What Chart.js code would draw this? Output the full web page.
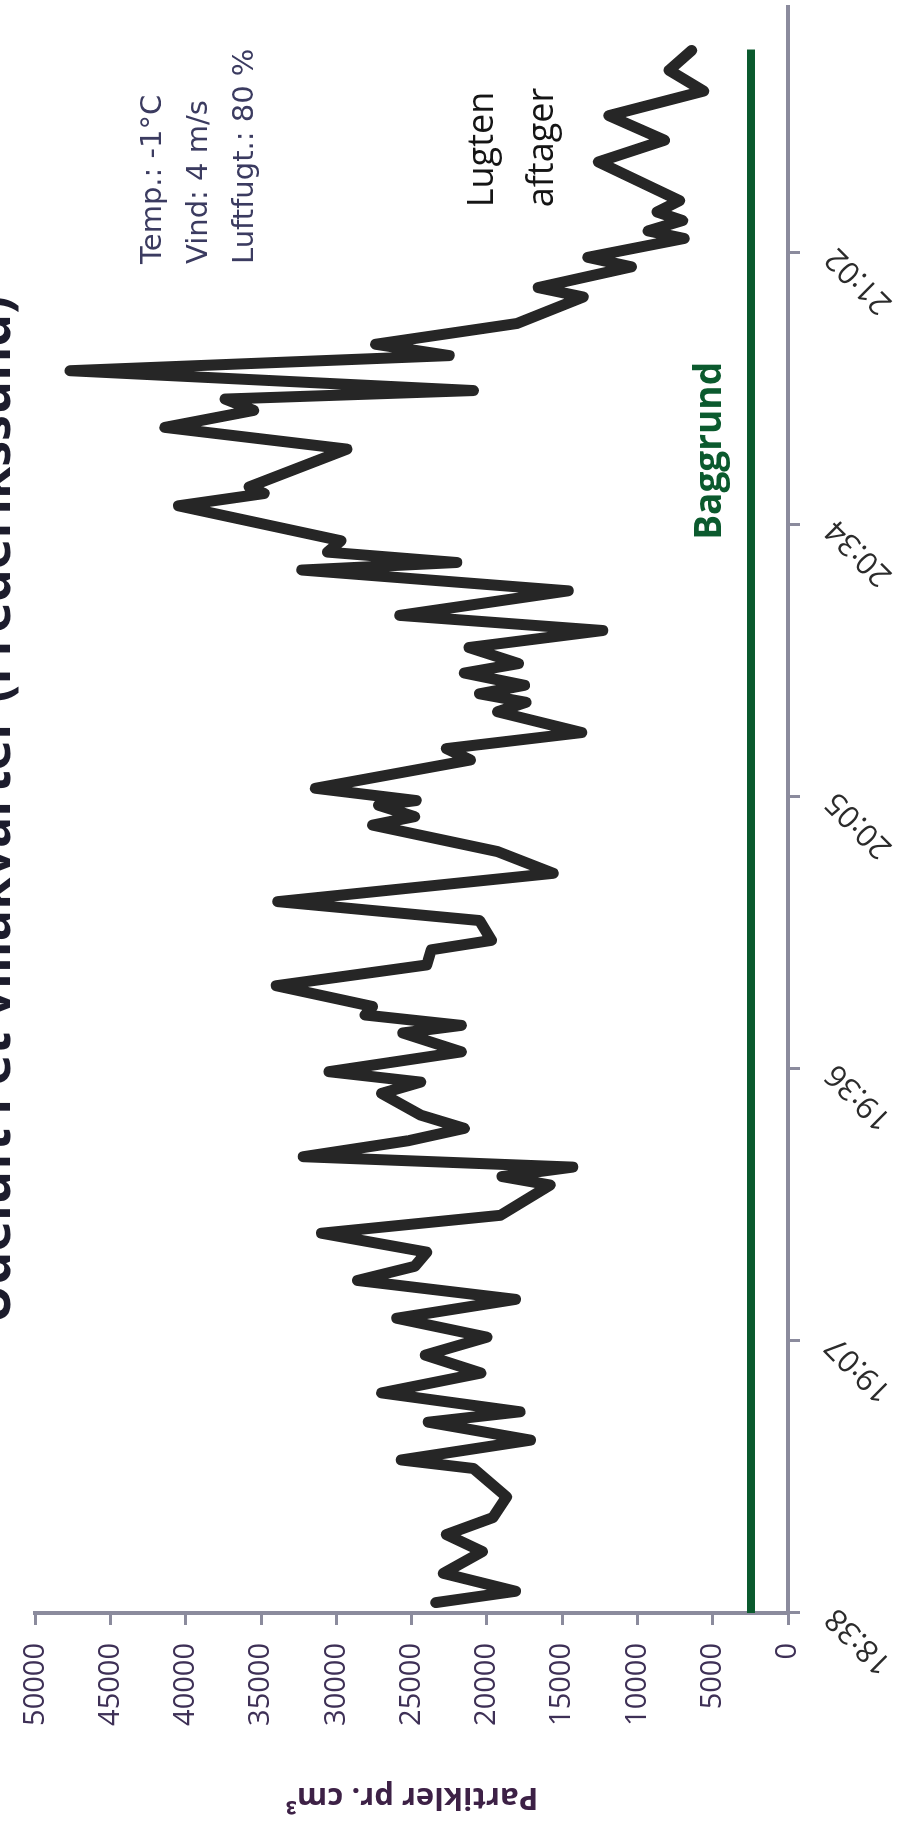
<!DOCTYPE html>
<html lang="da">
<head>
  <meta charset="UTF-8" />
  <title>Udeluft i et villakvarter (Frederikssund)</title>
  <style>
    html, body {
      margin: 0;
      padding: 0;
      background: #fff;
      width: 903px;
      height: 1825px;
      overflow: hidden;
    }
    /* the chart is drawn landscape and turned a quarter turn, like the scanned page */
    #turn {
      position: absolute;
      left: 0;
      top: 0;
      width: 1825px;
      height: 903px;
      transform-origin: 0 0;
      transform: translate(0, 1825px) rotate(-90deg);
    }
  </style>
  <script src="https://cdn.jsdelivr.net/npm/chart.js"></script>
</head>
<body>

<div id="turn"><canvas id="chart"></canvas></div>

<script>
  // minutes after 18:38 and particle counts
  const minutes = [
    1.1, 2.3, 4.2, 6.5, 8.3, 10.1, 12.3, 15.3, 16.2, 18.3, 20.2, 21.3, 23.3, 25.4, 27.3, 29.2,
    31.2, 33.2, 35.2, 36.7, 38.2, 40.2, 42.1, 45.3, 46.2, 47.2, 48.3, 50.0, 51.3, 52.7, 55.0,
    56.2, 57.3, 59.4, 61.4, 62.2, 63.3, 64.2, 66.4, 68.6, 70.2, 71.2, 73.3, 75.3, 78.3, 80.6,
    83.4, 84.3, 85.5, 86.0, 87.3, 90.3, 91.5, 93.2, 95.4, 96.4, 97.3, 98.2, 99.5, 100.5, 102.2,
    104.0, 105.6, 108.2, 110.4, 111.2, 112.3, 113.5, 117.2, 118.5, 119.2, 123.2, 125.5, 127.3,
    128.5, 129.4, 131.5, 133.1, 134.3, 136.5, 139.3, 140.3, 142.5, 143.5, 145.5, 146.3, 147.4,
    148.3, 149.5, 153.6, 155.9, 158.5, 161.1, 163.3, 165.4
  ];
  const particles = [
    23400, 18100, 22900, 20300, 22700, 19600, 18700, 20900, 25700, 17100, 23900, 17800, 27000, 20400, 24100, 20000,
    26000, 18100, 28600, 24800, 24000, 31000, 19100, 15800, 19000, 14300, 32200, 25200, 21500, 24400, 27000,
    24400, 30500, 21700, 25600, 21700, 28100, 27600, 34000, 24000, 23700, 19700, 20500, 33900, 15600, 19300,
    27600, 24800, 27200, 24700, 31400, 21100, 22700, 13700, 19300, 17400, 20500, 17500, 21500, 17900, 21200,
    12300, 25800, 14600, 32300, 22000, 30600, 29700, 40500, 34800, 35800, 29300, 41400, 35500,
    37400, 20900, 47700, 22500, 27400, 18000, 13600, 16600, 10400, 13300, 6900, 9300, 7000,
    8700, 7200, 12600, 8200, 11900, 5600, 7900, 6400
  ];

  // background level (Baggrund)
  const bgMinutes = [0, 165.5];
  const bgLevel = [2450, 2450];

  // time axis labels
  const tickMinutes = [0, 28.8, 57.6, 86.4, 115.2, 144];
  const tickLabels = ['18:38', '19:07', '19:36', '20:05', '20:34', '21:02'];

  const axisGrey = '#8b8b9d';

  // text placed in the plot, anchored at (minutes, particles)
  const notes = [
    { text: 'Temp.: -1°C', at: [142.8, 41670], font: '29px "DejaVu Sans"', color: '#3b3b60' },
    { text: 'Vind: 4 m/s', at: [142.8, 38590], font: '29px "DejaVu Sans"', color: '#3b3b60' },
    { text: 'Luftfugt.: 80 %', at: [142.8, 35570], font: '29px "DejaVu Sans"', color: '#3b3b60' },
    { text: 'Lugten', at: [148.8, 19620], font: '36px "Open Sans"', color: '#151515' },
    { text: 'aftager', at: [148.8, 15620], font: '36px "Open Sans"', color: '#151515' },
    { text: 'Baggrund', at: [113.6, 4430], font: 'bold 37px "Open Sans"', color: '#0b5a2e' }
  ];

  const notesPlugin = {
    id: 'notes',
    afterDatasetsDraw(chart) {
      const { ctx, scales: { x, y } } = chart;
      ctx.save();
      ctx.textAlign = 'left';
      ctx.textBaseline = 'alphabetic';
      notes.forEach(n => {
        ctx.font = n.font;
        ctx.fillStyle = n.color;
        ctx.fillText(n.text, x.getPixelForValue(n.at[0]), y.getPixelForValue(n.at[1]));
      });
      ctx.restore();
    }
  };

  new Chart(document.getElementById('chart'), {
    type: 'line',
    data: {
      datasets: [
        {
          label: 'Partikler',
          data: minutes.map((m, i) => ({ x: m, y: particles[i] })),
          borderColor: '#262626',
          borderWidth: 11,
          borderJoinStyle: 'round',
          borderCapStyle: 'round',
          pointRadius: 0,
          tension: 0
        },
        {
          label: 'Baggrund',
          data: bgMinutes.map((m, i) => ({ x: m, y: bgLevel[i] })),
          borderColor: '#0b5a2e',
          borderWidth: 8,
          pointRadius: 0
        }
      ]
    },
    options: {
      responsive: true,
      maintainAspectRatio: false,
      animation: false,
      devicePixelRatio: 1,
      layout: { padding: { right: 7 } },
      plugins: {
        legend: { display: false },
        tooltip: { enabled: false },
        // the scan cuts the title in half, so it sits partly above the page
        title: {
          display: true,
          text: 'Udeluft i et villakvarter (Frederikssund)',
          fullSize: false,
          color: '#1c1c2c',
          font: { family: '"Open Sans"', size: 52, weight: 'bold' },
          padding: { top: -45, bottom: 8.6 }
        }
      },
      scales: {
        x: {
          type: 'linear',
          min: 0,
          max: 170,
          afterBuildTicks(scale) {
            scale.ticks = tickMinutes.map(v => ({ value: v }));
          },
          afterFit(scale) {
            scale.height = 115;
          },
          ticks: {
            autoSkip: false,
            minRotation: 45,
            maxRotation: 45,
            padding: 18,
            color: '#2b2b2b',
            font: { family: '"Open Sans"', size: 31 },
            callback: (value, index) => tickLabels[index]
          },
          grid: {
            drawOnChartArea: false,
            drawTicks: true,
            tickLength: 12,
            color: axisGrey,
            lineWidth: 3
          },
          border: { display: true, color: axisGrey, width: 4 }
        },
        y: {
          min: 0,
          max: 50000,
          afterFit(scale) {
            scale.width = 212;
          },
          ticks: {
            stepSize: 5000,
            padding: 18,
            color: '#3e3056',
            font: { family: '"Open Sans"', size: 29 },
            callback: value => String(value)
          },
          grid: {
            drawOnChartArea: false,
            drawTicks: true,
            tickLength: 12,
            color: axisGrey,
            lineWidth: 3
          },
          border: { display: true, color: axisGrey, width: 4 },
          title: {
            display: true,
            text: 'Partikler pr. cm³',
            color: '#3d2146',
            font: { family: '"Open Sans"', size: 31, weight: 'bold' },
            padding: { top: 10, bottom: 0 }
          }
        }
      }
    },
    plugins: [notesPlugin]
  });
</script>

</body>
</html>
